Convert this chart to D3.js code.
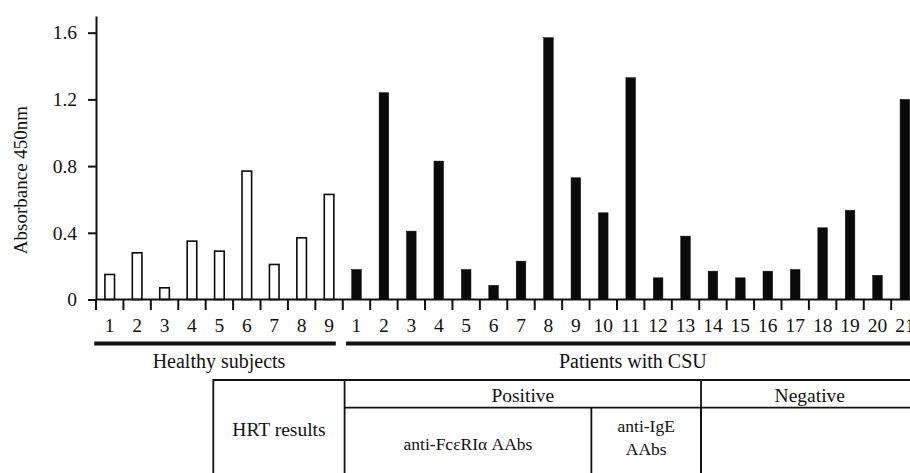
<!DOCTYPE html>
<html>
<head>
<meta charset="utf-8">
<script src="https://cdn.jsdelivr.net/npm/d3@7"></script>
<style>
  body { margin: 0; background: #fff; }
  text { font-family: "Liberation Serif", "Times New Roman", serif; fill: #111; }
</style>
</head>
<body>
<svg id="chart" width="910" height="473"></svg>
<script>
// Absorbance at 450 nm per subject
const healthyLabels = ["1", "2", "3", "4", "5", "6", "7", "8", "9"];
const healthyValues = [0.15, 0.28, 0.07, 0.35, 0.29, 0.77, 0.21, 0.37, 0.63];
const patientLabels = ["1", "2", "3", "4", "5", "6", "7", "8", "9", "10", "11",
  "12", "13", "14", "15", "16", "17", "18", "19", "20", "21"];
const patientValues = [0.18, 1.24, 0.41, 0.83, 0.18, 0.085, 0.23, 1.57, 0.73, 0.52, 1.33,
  0.13, 0.38, 0.17, 0.13, 0.17, 0.18, 0.43, 0.535, 0.145, 1.2];
const yTicks = [0, 0.4, 0.8, 1.2, 1.6];
const groupNames = ["Healthy subjects", "Patients with CSU"];
const yTitle = "Absorbance 450nm";
const hrtHeader = "HRT results";
// HRT result columns, given as patient number ranges
const hrtGroups = [
  { label: "Positive", from: 1, to: 13 },
  { label: "Negative", from: 14, to: 21 }
];
const hrtSubGroups = [
  { lines: ["anti-FcεRIα AAbs"], from: 1, to: 9 },
  { lines: ["anti-IgE", "AAbs"], from: 10, to: 13 },
  { lines: [], from: 14, to: 21 }
];

const rows = [
  ...healthyLabels.map((l, i) => ({ group: 0, label: l, value: healthyValues[i], key: "h" + l })),
  ...patientLabels.map((l, i) => ({ group: 1, label: l, value: patientValues[i], key: "p" + l }))
];

const svg = d3.select("#chart");
const x0 = 96, step = 27.42;
const x = d3.scaleBand()
  .domain(rows.map(d => d.key))
  .range([x0, x0 + rows.length * step])
  .paddingInner(0.65)
  .paddingOuter(0.325);
const y = d3.scaleLinear().domain([0, 1.7]).range([299.5, 16]);
const bw = x.bandwidth();
const pad = (x.step() - bw) / 2;
const edge = i => x(rows[i].key) - pad;          // left boundary of slot i
const edgeEnd = i => x(rows[i].key) + bw + pad;  // right boundary of slot i
const pIndex = n => healthyLabels.length + n - 1;

// bars
svg.append("g").selectAll("rect").data(rows).join("rect")
  .attr("x", d => x(d.key))
  .attr("width", bw)
  .attr("y", d => y(d.value))
  .attr("height", d => y(0) - y(d.value))
  .attr("fill", d => d.group === 0 ? "#fff" : "#0a0a0a")
  .attr("stroke", "#0a0a0a")
  .attr("stroke-width", d => d.group === 0 ? 1.6 : 0.5);

// y axis
const yAxis = svg.append("g")
  .attr("transform", `translate(${x0},0)`)
  .call(d3.axisLeft(y).tickValues(yTicks).tickSize(8).tickSizeOuter(0).tickPadding(11)
    .tickFormat(d => d === 0 ? "0" : d3.format(".1f")(d)));
yAxis.attr("font-family", null);
yAxis.select(".domain").attr("stroke", "#111").attr("stroke-width", 2);
yAxis.selectAll(".tick line").attr("stroke", "#111").attr("stroke-width", 2);
yAxis.selectAll(".tick text").attr("font-size", 19.5).attr("fill", "#111");

svg.append("text")
  .attr("transform", "translate(27,180) rotate(-90)")
  .attr("text-anchor", "middle")
  .attr("font-size", 19)
  .text(yTitle);

// x baseline and slot ticks
svg.append("line")
  .attr("x1", x0).attr("x2", edgeEnd(rows.length - 1))
  .attr("y1", y(0)).attr("y2", y(0))
  .attr("stroke", "#111").attr("stroke-width", 2);
const tickPos = rows.map((d, i) => edge(i));
svg.append("g").selectAll("line").data(tickPos).join("line")
  .attr("x1", d => d).attr("x2", d => d)
  .attr("y1", y(0)).attr("y2", y(0) + 10.5)
  .attr("stroke", "#111").attr("stroke-width", 2);
svg.append("g").selectAll("text").data(rows).join("text")
  .attr("x", d => x(d.key) + bw / 2)
  .attr("y", 331.5)
  .attr("text-anchor", "middle")
  .attr("font-size", 19.5)
  .text(d => d.label);

// group brackets
const groupSpans = [
  { x1: edge(0) - 1.7, x2: edgeEnd(healthyLabels.length - 1) - 7, name: groupNames[0] },
  { x1: edge(healthyLabels.length) + 3.3, x2: edgeEnd(rows.length - 1) + 1, name: groupNames[1] }
];
svg.append("g").selectAll("line").data(groupSpans).join("line")
  .attr("x1", d => d.x1).attr("x2", d => d.x2)
  .attr("y1", 343.5).attr("y2", 343.5)
  .attr("stroke", "#111").attr("stroke-width", 4);
svg.append("g").selectAll("text").data(groupSpans).join("text")
  .attr("x", (d, i) => (d.x1 + d.x2) / 2 + (i === 0 ? 4 : 0))
  .attr("y", 367.5)
  .attr("text-anchor", "middle")
  .attr("font-size", 20)
  .text(d => d.name);

// HRT table
const tTop = 380, tMid = 407.7, tBottom = 490, tLeft = 213.3;
const tRight = edgeEnd(rows.length - 1);
const col = n => edge(pIndex(n)) + 1.8;
const colEnd = n => (n === patientLabels.length ? tRight : col(n + 1));
const table = svg.append("g").attr("stroke", "#111").attr("stroke-width", 1.8).attr("fill", "none");
table.append("path").attr("d", `M${tLeft},${tBottom}V${tTop}H${tRight}`);
table.append("line").attr("x1", col(1)).attr("x2", tRight).attr("y1", tMid).attr("y2", tMid);
table.append("line").attr("x1", col(1)).attr("x2", col(1)).attr("y1", tTop).attr("y2", tBottom);
hrtGroups.slice(1).forEach(g => {
  table.append("line").attr("x1", col(g.from)).attr("x2", col(g.from)).attr("y1", tTop).attr("y2", tBottom);
});
hrtSubGroups.slice(1).forEach(g => {
  table.append("line").attr("x1", col(g.from)).attr("x2", col(g.from)).attr("y1", tMid).attr("y2", tBottom);
});

svg.append("text")
  .attr("x", (tLeft + col(1)) / 2).attr("y", 436)
  .attr("text-anchor", "middle").attr("font-size", 19.5)
  .text(hrtHeader);
svg.append("g").selectAll("text").data(hrtGroups).join("text")
  .attr("x", d => (col(d.from) + colEnd(d.to)) / 2)
  .attr("y", 401.5)
  .attr("text-anchor", "middle").attr("font-size", 19.5)
  .text(d => d.label);
hrtSubGroups.forEach(g => {
  const cx = (col(g.from) + colEnd(g.to)) / 2;
  const n = g.lines.length;
  g.lines.forEach((line, k) => {
    svg.append("text")
      .attr("x", cx)
      .attr("y", n === 1 ? 449.5 : 431.5 + k * 23.5)
      .attr("text-anchor", "middle").attr("font-size", 17.5)
      .text(line);
  });
});
</script>
</body>
</html>
